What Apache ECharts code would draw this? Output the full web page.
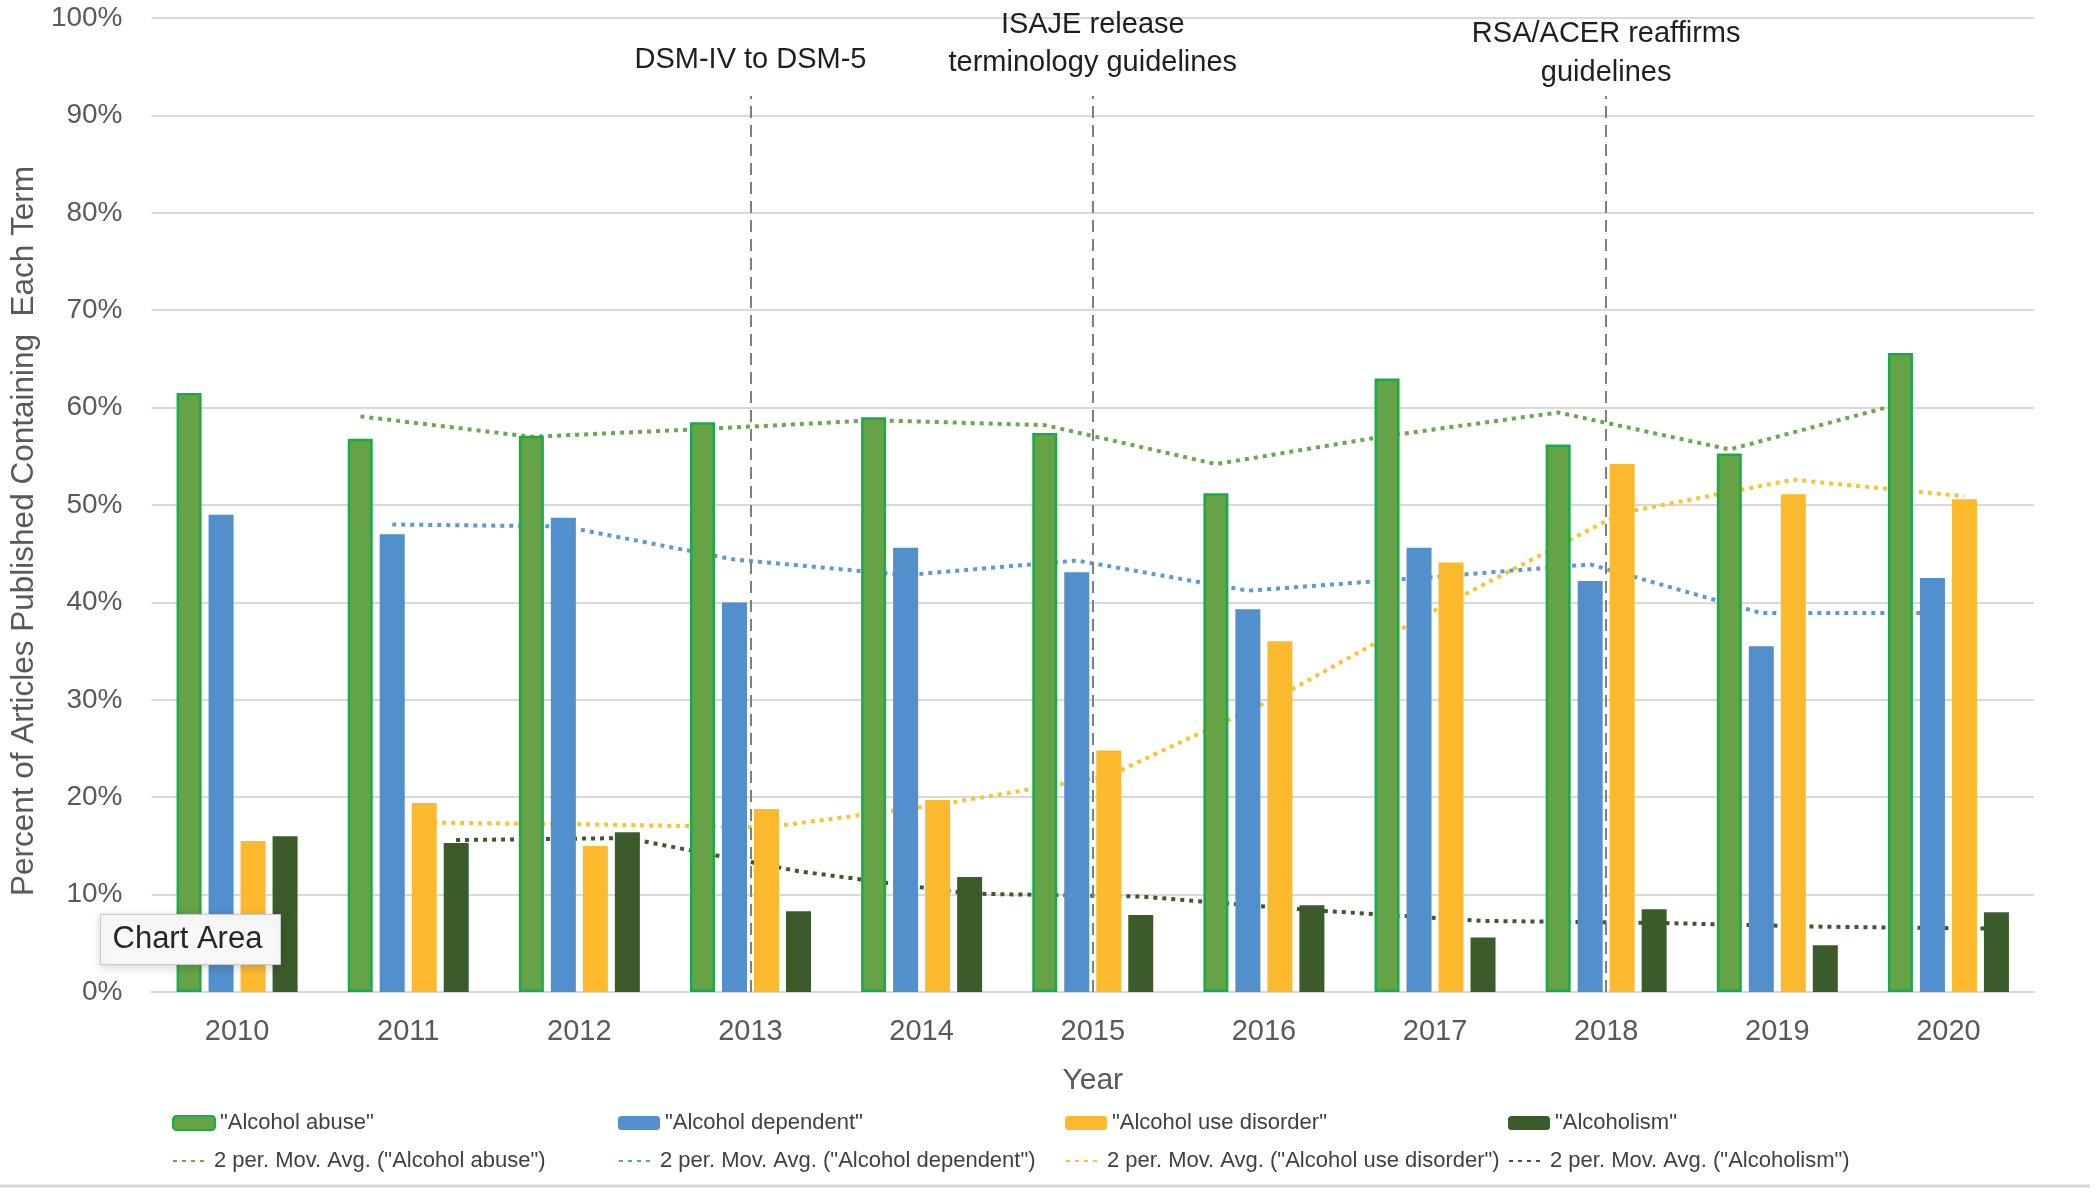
<!DOCTYPE html>
<html>
<head>
<meta charset="utf-8">
<script src="https://cdn.jsdelivr.net/npm/echarts@6/dist/echarts.min.js"></script>
<style>
html,body{margin:0;padding:0;background:#fff;}
#chart{width:2100px;height:1198px;}
</style>
</head>
<body>
<div id="chart"></div>
<script>
// ---- data (percent of articles) ----
const years = ['2010','2011','2012','2013','2014','2015','2016','2017','2018','2019','2020'];
const alcoholAbuse      = [61.5, 56.8, 57.1, 58.5, 59.0, 57.4, 51.2, 63.0, 56.2, 55.3, 65.6];
const alcoholDependent  = [49.0, 47.0, 48.7, 40.0, 45.6, 43.1, 39.3, 45.6, 42.2, 35.5, 42.5];
const alcoholUseDisorder= [15.5, 19.4, 15.0, 18.8, 19.7, 24.8, 36.0, 44.1, 54.2, 51.1, 50.6];
const alcoholism        = [16.0, 15.3, 16.4,  8.3, 11.8,  7.9,  8.9,  5.6,  8.5,  4.8,  8.2];
// 2-period moving averages as read from the trendlines
const abuseMovAvg       = [null, 59.1, 57.0, 57.8, 58.7, 58.2, 54.2, 57.1, 59.5, 55.7, 60.4];
const dependentMovAvg   = [null, 48.0, 47.8, 44.4, 42.8, 44.3, 41.2, 42.5, 43.9, 38.9, 38.9];
const useDisorderMovAvg = [null, 17.4, 17.2, 16.9, 19.2, 22.2, 30.4, 40.1, 49.2, 52.6, 50.9];
const alcoholismMovAvg  = [null, 15.6, 15.8, 12.4, 10.1,  9.8,  8.4,  7.3,  7.1,  6.7,  6.5];
const yTickStep = 10;
const yMax = 100;
const events = [
  { year: '2013', text: 'DSM-IV to DSM-5' },
  { year: '2015', text: 'ISAJE release\nterminology guidelines' },
  { year: '2018', text: 'RSA/ACER reaffirms\nguidelines' }
];
const seriesNames = ['"Alcohol abuse"', '"Alcohol dependent"', '"Alcohol use disorder"', '"Alcoholism"'];
const maNames = seriesNames.map(n => '2 per. Mov. Avg. (' + n + ')');

// ---- layout / style ----
const W = 2100, H = 1198;
const gridL = 145, gridR = 66, gridT = 18, gridB = 206;
const catW = (W - gridL - gridR) / years.length;
const barW = 25, gapRatio = 0.28;
const pitch = barW * (1 + gapRatio);
const FONT = '"Liberation Sans", Arial, sans-serif';
const colors = {
  abuse: '#66a346', abuseBorder: '#18ab4a',
  dep: '#528fcd', use: '#fdb92e', ism: '#3b5b2a'
};
const maColors = ['#6aa84f', '#5b9bd5', '#ffc12e', '#3b5b2a'];

function barSeries(name, data, color, extra) {
  return Object.assign({
    name, type: 'bar', data, barWidth: barW, barGap: (gapRatio * 100) + '%',
    itemStyle: { color }, z: 3, animation: false, xAxisIndex: 0, yAxisIndex: 0
  }, extra || {});
}
function maSeries(name, data, color, k) {
  const off = (k - 1.5) * pitch / catW;
  const pts = [];
  data.forEach((v, i) => { if (v != null) pts.push([i + off, v]); });
  return {
    name, type: 'line', data: pts, xAxisIndex: 1, yAxisIndex: 0,
    symbol: 'none', showSymbol: false, z: 2, animation: false,
    lineStyle: { color, width: 4, type: [4, 5] }, itemStyle: { color }
  };
}

const legendCols = [167, 613, 1060, 1503];
const legends = [];
seriesNames.forEach((n, i) => legends.push({
  data: [n], left: legendCols[i], top: 1107, itemWidth: 42, itemHeight: 14,
  textStyle: { fontSize: 22, color: '#404040', fontFamily: FONT }, selectedMode: false
}));
maNames.forEach((n, i) => legends.push({
  data: [n], left: legendCols[i], top: 1145, itemWidth: 36, itemHeight: 14,
  itemStyle: { opacity: 0 },
  textStyle: { fontSize: 22, color: '#404040', fontFamily: FONT }, selectedMode: false
}));

const eventLabelCfg = {
  '2013': { distance: 17, lineHeight: 38 },
  '2015': { distance: 14, lineHeight: 38 },
  '2018': { distance: 3, lineHeight: 39 }
};

const option = {
  backgroundColor: '#ffffff',
  animation: false,
  textStyle: { fontFamily: FONT },
  grid: { left: gridL, right: gridR, top: gridT, bottom: gridB, containLabel: false },
  legend: legends,
  xAxis: [
    {
      type: 'category', data: years,
      axisLine: { show: true, lineStyle: { color: '#d9d9d9', width: 2 } },
      axisTick: { show: false },
      axisLabel: { fontSize: 29, color: '#595959', margin: 25, fontFamily: FONT },
      name: 'Year', nameLocation: 'middle', nameGap: 74,
      nameTextStyle: { fontSize: 30, color: '#595959', fontFamily: FONT }
    },
    { type: 'value', min: -0.5, max: years.length - 0.5, show: false }
  ],
  yAxis: {
    type: 'value', min: 0, max: yMax, interval: yTickStep,
    axisLine: { show: false }, axisTick: { show: false },
    splitLine: { lineStyle: { color: '#d9d9d9', width: 2 } },
    axisLabel: { formatter: '{value}%', fontSize: 28, color: '#595959', margin: 29, fontFamily: FONT },
    name: 'Percent of Articles Published Containing  Each Term',
    nameLocation: 'middle', nameGap: 102,
    nameTextStyle: { fontSize: 31.5, color: '#595959', fontFamily: FONT, padding: [0, 52, 0, 0] }
  },
  series: [
    maSeries(maNames[0], abuseMovAvg, maColors[0], 0),
    maSeries(maNames[1], dependentMovAvg, maColors[1], 1),
    maSeries(maNames[2], useDisorderMovAvg, maColors[2], 2),
    maSeries(maNames[3], alcoholismMovAvg, maColors[3], 3),
    barSeries(seriesNames[0], alcoholAbuse, colors.abuse,
      { itemStyle: { color: colors.abuse, borderColor: colors.abuseBorder, borderWidth: 2.5 } }),
    barSeries(seriesNames[1], alcoholDependent, colors.dep),
    barSeries(seriesNames[2], alcoholUseDisorder, colors.use),
    barSeries(seriesNames[3], alcoholism, colors.ism),
    {
      name: 'events', type: 'line', data: [], xAxisIndex: 0, yAxisIndex: 0, z: 10,
      silent: true, animation: false,
      markLine: {
        silent: true, symbol: ['none', 'none'], animation: false,
        lineStyle: { color: '#7f7f7f', width: 2, type: [12, 7] },
        data: events.map(e => [
          { coord: [e.year, 0],
            label: { show: true, position: 'end', formatter: e.text, fontSize: 29,
                     color: '#1f1f1f', fontFamily: FONT, align: 'center',
                     distance: eventLabelCfg[e.year].distance, lineHeight: eventLabelCfg[e.year].lineHeight } },
          { coord: [e.year, 92] }
        ])
      }
    }
  ],
  graphic: [
    { type: 'line', shape: { x1: 0, y1: 1186, x2: 2090, y2: 1186 },
      style: { stroke: '#d4d4d4', lineWidth: 3 }, silent: true },
    { type: 'group', left: 100, top: 914, zlevel: 2, children: [
      { type: 'rect', shape: { x: 0, y: 0, width: 180, height: 50 }, zlevel: 2,
        style: { fill: '#f8f8f8', stroke: '#c9c9c9', lineWidth: 1,
                 shadowBlur: 10, shadowColor: 'rgba(0,0,0,0.18)', shadowOffsetY: 2 } },
      { type: 'text', x: 12, y: 25, zlevel: 2,
        style: { text: 'Chart Area', fontSize: 31, fill: '#262626', fontFamily: FONT, verticalAlign: 'middle' } }
    ] }
  ]
};

const chart = echarts.init(document.getElementById('chart'), null, { renderer: 'canvas' });
chart.setOption(option);
</script>
</body>
</html>
